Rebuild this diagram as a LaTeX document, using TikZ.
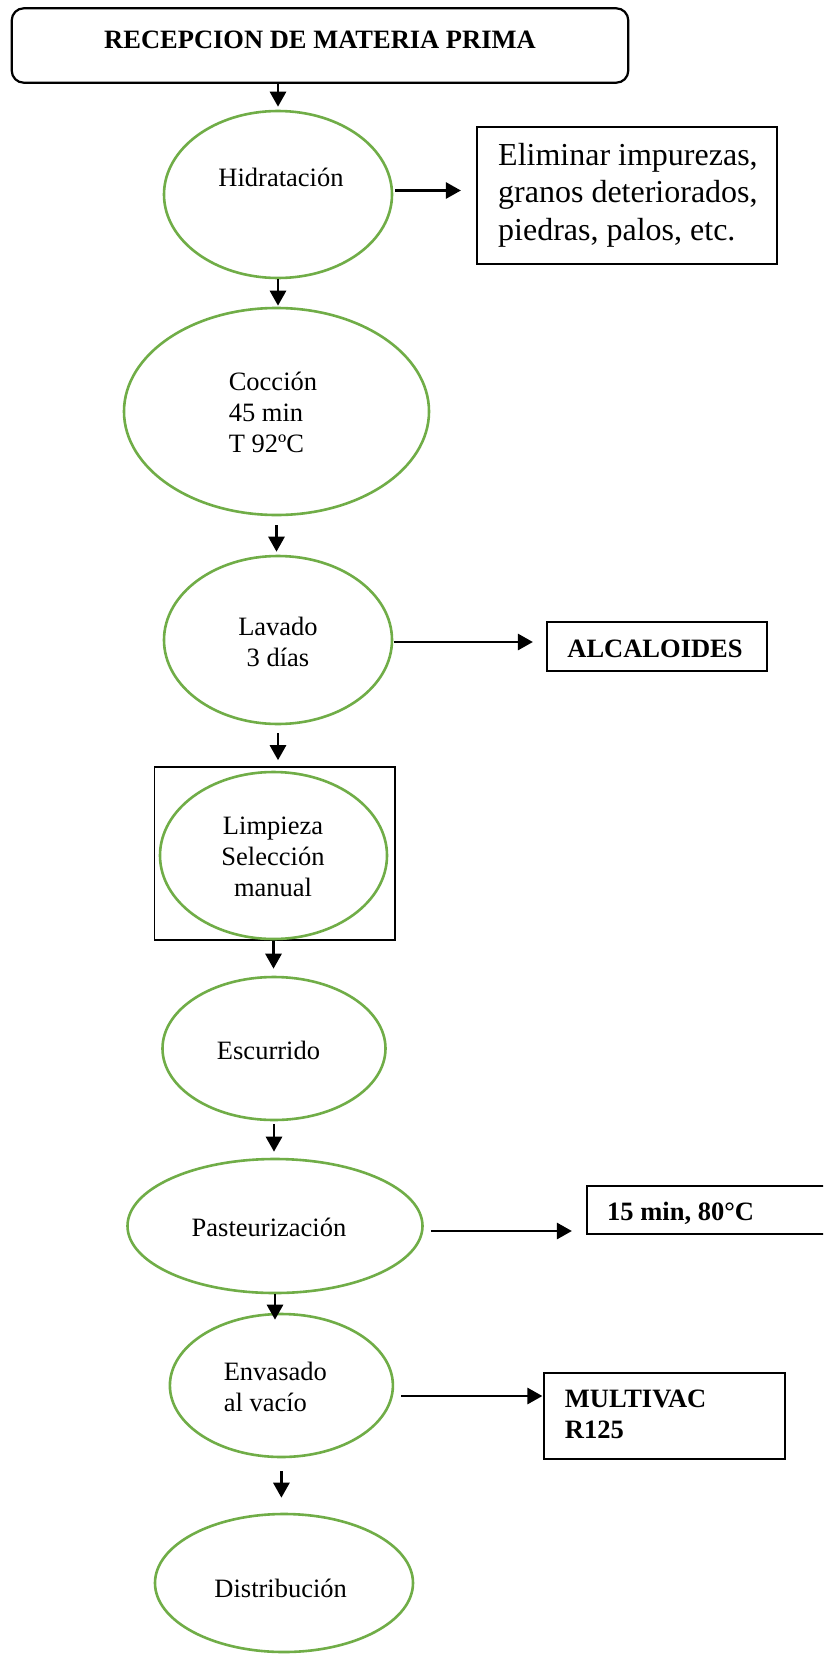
\documentclass[tikz,border=0pt]{standalone}
\usepackage{fontspec}
\setmainfont{Liberation Serif}
\usetikzlibrary{shapes.geometric,arrows.meta,calc}
\definecolor{stepgreen}{RGB}{112,173,71}
\begin{document}
\begin{tikzpicture}[x=1pt,y=-1pt,
  proc/.style={ellipse,draw=stepgreen,line width=2.6pt,inner sep=0pt},
  txt/.style={font=\fontsize{26.5}{31}\selectfont,inner sep=0pt},
  btxt/.style={font=\fontsize{26.5}{31}\selectfont\bfseries,inner sep=0pt},
  box/.style={draw,line width=2.2pt,inner sep=0pt},
  arr/.style={line width=2.8pt,-{Triangle[length=15pt,width=16pt]}}
]
\path[use as bounding box,clip] (0,0) rectangle (823,1654);
\fill[white] (0,0) rectangle (823,1654);

% top box
\node[box,rounded corners=12pt,minimum width=616.5pt,minimum height=74.4pt] (rec) at (320,45.5) {};
\node[btxt] (trec) at (320,40) {RECEPCION DE MATERIA PRIMA};

% ellipses
\node[proc,minimum width=228pt,minimum height=167pt] (hid) at (278,194.5) {};
\node[txt] (thid) at (281,177) {Hidratación};

\node[box,minimum width=300pt,minimum height=137pt] (elim) at (627,195.5) {};
\node[font=\fontsize{32}{37.5}\selectfont,inner sep=0pt,align=left,anchor=west] (telim) at (498,195) {Eliminar impurezas,\\granos deteriorados,\\piedras, palos, etc.};

\node[proc,minimum width=305pt,minimum height=207pt] (coc) at (276.5,411.5) {};
\node[txt,align=left,anchor=west] (tcoc) at (228.6,412.5) {Cocción\\45 min\\T 92ºC};

\node[proc,minimum width=228pt,minimum height=168pt] (lav) at (278,640) {};
\node[txt,align=center] (tlav) at (278,641.5) {Lavado\\3 días};

\node[box,minimum width=220pt,minimum height=49pt] (alc) at (657,646.5) {};
\node[btxt] (talc) at (655,649) {ALCALOIDES};

\node[draw,line width=1.6pt,inner sep=0pt,minimum width=240.4pt,minimum height=173pt] (limpbox) at (274.8,853.5) {};
\node[proc,minimum width=227pt,minimum height=167pt] (limp) at (273.5,855.5) {};
\node[txt,align=center] (tlimp) at (273,856.5) {Limpieza\\Selección\\manual};

\node[proc,minimum width=223pt,minimum height=143pt] (esc) at (274,1048.5) {};
\node[txt] (tesc) at (268.5,1050) {Escurrido};

\node[proc,minimum width=295pt,minimum height=134pt] (pas) at (275,1226) {};
\node[txt] (tpas) at (269,1227) {Pasteurización};

\node[box,minimum width=313pt,minimum height=48pt] (tmp) at (743.5,1210) {};
\node[btxt,anchor=west] (ttmp) at (607,1213) {15 min, 80°C};

\node[proc,minimum width=223pt,minimum height=143pt] (env) at (281.4,1385.5) {};
\node[txt,align=left,anchor=west] (tenv) at (223.6,1386.5) {Envasado\\al vacío};

\node[box,minimum width=241pt,minimum height=86pt] (mul) at (664.5,1415.7) {};
\node[btxt,align=left,anchor=west] (tmul) at (564.7,1414) {MULTIVAC\\R125};

\node[proc,minimum width=258pt,minimum height=138pt] (dis) at (284,1583) {};
\node[txt] (tdis) at (280.7,1588) {Distribución};

% vertical arrows
\draw[arr,shorten >=3pt] (hid.north |- rec.south) -- (hid.north);
\draw[arr,shorten >=1pt] (hid.south) -- (hid.south |- coc.north);
\draw[arr,shorten <=9pt,shorten >=3pt] (coc.south) -- (coc.south |- lav.north);
\draw[arr,shorten <=8pt,shorten >=6pt] (lav.south) -- (lav.south |- limpbox.north);
\draw[arr,shorten >=7pt] (limp.south |- limpbox.south) -- (limp.south |- esc.north);
\draw[arr,shorten <=3pt,shorten >=6pt] (esc.south) -- (esc.south |- pas.north);
\draw[arr,shorten >=-7pt] (pas.south) -- (pas.south |- env.north);
\draw[arr,shorten <=13pt,shorten >=15pt] (env.south) -- (env.south |- dis.north);

% horizontal arrows
\draw[arr,shorten <=2pt,shorten >=15pt] ([yshift=4pt]hid.east) -- ([yshift=4pt]hid.east -| elim.west);
\draw[arr,shorten <=1pt,shorten >=13pt] ([yshift=-2pt]lav.east) -- ([yshift=-2pt]lav.east -| alc.west);
\draw[arr,shorten <=7pt,shorten >=14pt] ([yshift=-5pt]pas.east) -- ([yshift=-5pt]pas.east -| tmp.west);
\draw[arr,shorten <=7pt,shorten >=0.5pt] ([yshift=-10.5pt]env.east) -- ([yshift=-10.5pt]env.east -| mul.west);
\end{tikzpicture}
\end{document}
